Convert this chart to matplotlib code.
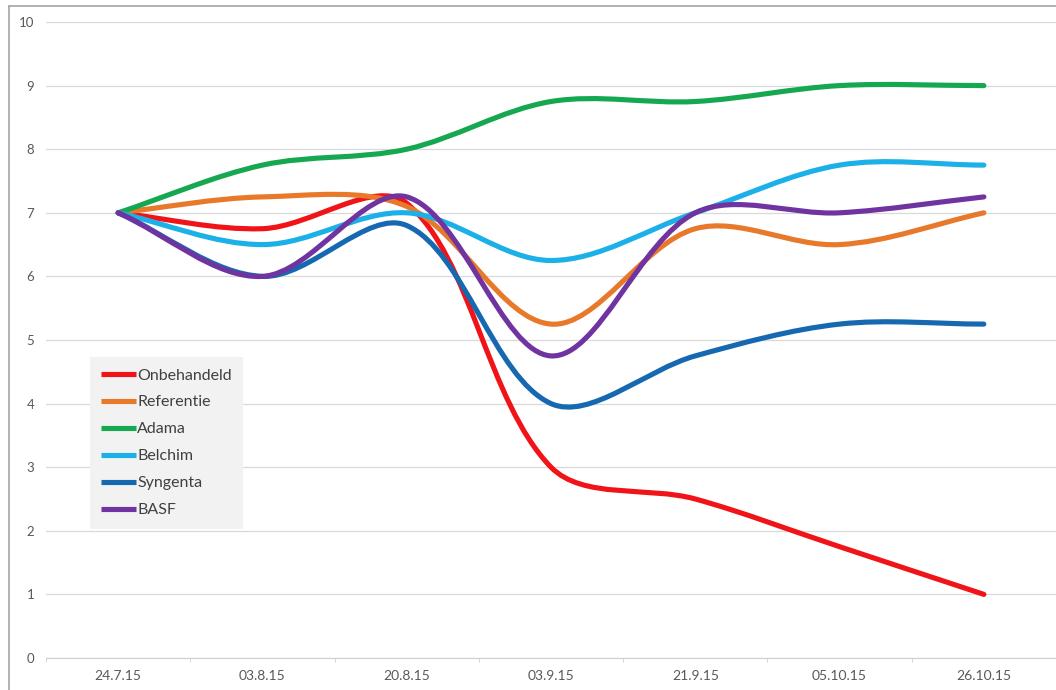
import numpy as np
import matplotlib
matplotlib.use("Agg")
import matplotlib.pyplot as plt
from matplotlib.path import Path
from matplotlib.patches import PathPatch
from matplotlib.lines import Line2D

plt.rcParams["font.family"] = ["Lato", "DejaVu Sans"]

dates = ["24.7.15", "03.8.15", "20.8.15", "03.9.15", "21.9.15", "05.10.15", "26.10.15"]
onbehandeld = [7, 6.75, 7.15, 3, 2.5, 1.75, 1]
referentie = [7, 7.25, 7.1, 5.25, 6.75, 6.5, 7]
adama = [7, 7.75, 8, 8.75, 8.75, 9, 9]
belchim = [7, 6.5, 7, 6.25, 7, 7.75, 7.75]
syngenta = [7, 6, 6.8, 4, 4.75, 5.25, 5.25]
basf = [7, 6, 7.25, 4.75, 7, 7, 7.25]

series = [
    ("Onbehandeld", onbehandeld, "#f01418"),
    ("Referentie", referentie, "#e8782a"),
    ("Adama", adama, "#16a850"),
    ("Belchim", belchim, "#1cb0e8"),
    ("Syngenta", syngenta, "#1668b0"),
    ("BASF", basf, "#7034a0"),
]

# approx. screen scale of one category / one y unit (px), used for chord lengths
SX, SY = 144.5, 63.6


def smooth_path(xs, ys):
    # Excel-like smoothed line: cubic Bezier, tangents parallel to the
    # neighbour chord, handle length split by adjacent segment lengths
    pts = np.column_stack([xs, ys]).astype(float)
    scr = pts * [SX, SY]
    n = len(pts)
    seg = np.hypot(*np.diff(scr, axis=0).T)
    out_h, in_h = [], []
    for i in range(n):
        a = pts[max(i - 1, 0)]
        b = pts[min(i + 1, n - 1)]
        t = b - a
        l_in = seg[i - 1] if i > 0 else 0.0
        l_out = seg[i] if i < n - 1 else 0.0
        tot = l_in + l_out
        out_h.append(t * (l_out / tot) / 3.0 if tot else t * 0)
        in_h.append(t * (l_in / tot) / 3.0 if tot else t * 0)
    verts = [pts[0]]
    codes = [Path.MOVETO]
    for i in range(n - 1):
        verts += [pts[i] + out_h[i], pts[i + 1] - in_h[i + 1], pts[i + 1]]
        codes += [Path.CURVE4] * 3
    return Path(verts, codes)


fig = plt.figure(figsize=(10.56, 6.90), dpi=100)
ax = fig.add_axes([0.0436, 0.0464, 0.9564, 0.9217])

x = np.arange(len(dates))
lw = 3.7
handles = []
for name, vals, col in series:
    patch = PathPatch(smooth_path(x, vals), fill=False, edgecolor=col, lw=lw,
                      capstyle="round", joinstyle="round", zorder=3)
    ax.add_patch(patch)
    handles.append(Line2D([], [], color=col, lw=lw, solid_capstyle="butt", label=name))

ax.set_xlim(-0.5, len(dates) - 0.5)
ax.set_ylim(0, 10)
ax.set_yticks(range(0, 11))
ax.set_xticks(x)
ax.set_xticklabels(dates)
ax.set_xticks(np.arange(-0.5, len(dates)), minor=True)
ax.grid(axis="y", color="#d9d9d9", lw=0.9)
ax.set_axisbelow(True)
for s in ["top", "right", "left"]:
    ax.spines[s].set_visible(False)
ax.spines["bottom"].set_color("#d0d0d0")
ax.tick_params(axis="y", length=0, pad=8.5, labelsize=9.5, labelcolor="#595959")
ax.tick_params(axis="x", which="major", length=0, pad=8.5, labelsize=10, labelcolor="#595959")
ax.tick_params(axis="x", which="minor", length=3, color="#d0d0d0")

leg = ax.legend(handles=handles, loc="upper left", bbox_to_anchor=(0.0435, 0.473),
                borderaxespad=0, frameon=True, fancybox=False, fontsize=11.5,
                handlelength=2.2, handletextpad=0.05, labelspacing=0.8,
                borderpad=0.7)
leg.get_frame().set_facecolor("#f2f2f2")
leg.get_frame().set_edgecolor("none")
leg.get_frame().set_alpha(1)
for t in leg.get_texts():
    t.set_color("#404040")

# outer chart border (cropped at right and bottom)
fig.add_artist(Line2D([0.0085, 0.0085], [0, 0.991], transform=fig.transFigure,
                      color="#a6a6a6", lw=1.2))
fig.add_artist(Line2D([0.0085, 1], [0.991, 0.991], transform=fig.transFigure,
                      color="#a6a6a6", lw=1.2))

fig.savefig("out.png", dpi=100)
